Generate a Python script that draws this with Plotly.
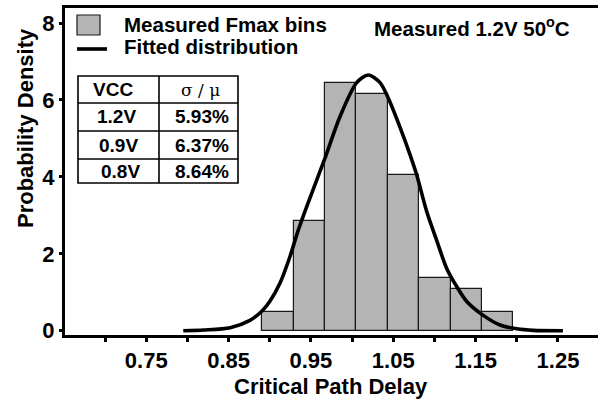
import plotly.graph_objects as go

# Histogram of measured critical path delay (normalised), 1.2V / 50°C
bin_centers = [0.9100, 0.9481, 0.9862, 1.0243, 1.0624, 1.1005, 1.1386, 1.1767]
bin_width = 0.0381
bin_density = [0.49, 2.86, 6.45, 6.15, 4.05, 1.38, 1.08, 0.49]

# Fitted distribution curve
fit_x = [0.795, 0.820, 0.852, 0.876, 0.890, 0.900, 0.9125, 0.9246, 0.9347, 0.9449,
         0.967, 0.985, 1.0056, 1.0197, 1.0339, 1.0428, 1.058, 1.0703, 1.0785,
         1.0906, 1.1027, 1.1149, 1.127, 1.1392, 1.1593, 1.1796, 1.200, 1.220, 1.256]
fit_y = [0.00, 0.02, 0.08, 0.27, 0.50, 0.76, 1.24, 1.93, 2.62, 3.23,
         4.48, 5.55, 6.45, 6.65, 6.45, 6.10, 5.30, 4.58, 4.05,
         3.10, 2.35, 1.62, 1.15, 0.76, 0.40, 0.15, 0.05, 0.01, 0.00]

# Spread table
vcc_labels = ["1.2V", "0.9V", "0.8V"]
sigma_mu = ["5.93%", "6.37%", "8.64%"]

x_major_ticks = [0.75, 0.85, 0.95, 1.05, 1.15, 1.25]
x_major_text = ["0.75", "0.85", "0.95", "1.05", "1.15", "1.25"]
x_minor_ticks = [0.70, 0.80, 0.90, 1.00, 1.10, 1.20]
y_tick_vals = [0, 2, 4, 6, 8]

FONT = "Liberation Sans, Arial, sans-serif"
W, H = 598, 400
ML, MR, MT, MB = 65, 0, 8, 65

fig = go.Figure()
fig.add_trace(go.Bar(
    x=bin_centers, y=bin_density, width=[bin_width] * len(bin_centers),
    marker=dict(color="#b4b4b4", line=dict(color="#1a1a1a", width=1.2)),
    showlegend=False,
))
fig.add_trace(go.Scatter(
    x=fit_x, y=fit_y, mode="lines",
    line=dict(color="black", width=3.6, shape="spline", smoothing=0.8),
    showlegend=False,
))

pw, ph = W - ML - MR, H - MT - MB


def px(xp):
    return (xp - ML) / pw


def py(yp):
    return 1 - (yp - MT) / ph


shapes = []
annotations = []
bold = dict(family=FONT, size=20.5, color="black", weight="bold")

# Legend
shapes.append(dict(type="rect", xref="paper", yref="paper",
                   x0=px(77), x1=px(100), y0=py(35), y1=py(15),
                   fillcolor="#b4b4b4", line=dict(color="#1a1a1a", width=1.2)))
shapes.append(dict(type="line", xref="paper", yref="paper",
                   x0=px(77), x1=px(107), y0=py(49), y1=py(49),
                   line=dict(color="black", width=3.6)))
annotations.append(dict(xref="paper", yref="paper", x=px(122), y=py(25),
                        xanchor="left", yanchor="middle", showarrow=False,
                        text="Measured Fmax bins", font=bold))
annotations.append(dict(xref="paper", yref="paper", x=px(122), y=py(47),
                        xanchor="left", yanchor="middle", showarrow=False,
                        text="Fitted distribution", font=bold))
annotations.append(dict(xref="paper", yref="paper", x=px(472), y=py(27),
                        xanchor="center", yanchor="middle", showarrow=False,
                        text="Measured 1.2V 50<sup>o</sup>C", font=bold))

# Table
tx0, tx1, tcol = 78, 238, 159
row_edges = [76, 103, 131, 159, 183]
tline = dict(color="black", width=1.6)
shapes.append(dict(type="rect", xref="paper", yref="paper",
                   x0=px(tx0), x1=px(tx1), y0=py(row_edges[-1]), y1=py(row_edges[0]),
                   line=tline))
shapes.append(dict(type="line", xref="paper", yref="paper",
                   x0=px(tcol), x1=px(tcol), y0=py(row_edges[-1]), y1=py(row_edges[0]),
                   line=tline))
for r in row_edges[1:-1]:
    shapes.append(dict(type="line", xref="paper", yref="paper",
                       x0=px(tx0), x1=px(tx1), y0=py(r), y1=py(r), line=tline))

tfont = dict(family=FONT, size=19, color="black", weight="bold")
col1_c = 116
col2_c = 200
annotations.append(dict(xref="paper", yref="paper", x=px(col1_c - 3), y=py(90),
                        xanchor="center", yanchor="middle", showarrow=False,
                        text="VCC", font=tfont))
annotations.append(dict(xref="paper", yref="paper", x=px(col2_c), y=py(90),
                        xanchor="center", yanchor="middle", showarrow=False,
                        text="σ / μ", font=dict(family="DejaVu Serif, serif", size=17,
                                                  color="black")))
for i, (v, s) in enumerate(zip(vcc_labels, sigma_mu)):
    yc = (row_edges[i + 1] + row_edges[i + 2]) / 2
    annotations.append(dict(xref="paper", yref="paper", x=px(col1_c + i * 2), y=py(yc),
                            xanchor="center", yanchor="middle", showarrow=False,
                            text=v, font=tfont))
    annotations.append(dict(xref="paper", yref="paper", x=px(col2_c + 2), y=py(yc),
                            xanchor="center", yanchor="middle", showarrow=False,
                            text=s, font=tfont))

# Axis titles
title_font = dict(family=FONT, size=22, color="black", weight="bold")
annotations.append(dict(xref="paper", yref="paper", x=px(331), y=py(386),
                        xanchor="center", yanchor="middle", showarrow=False,
                        text="Critical Path Delay", font=title_font))
annotations.append(dict(xref="paper", yref="paper", x=px(25), y=py(128),
                        xanchor="center", yanchor="middle", showarrow=False,
                        textangle=-90, text="Probability Density", font=title_font))

tick_font = dict(family=FONT, size=22, color="black", weight="bold")

fig.update_layout(
    width=W, height=H,
    margin=dict(l=ML, r=MR, t=MT, b=MB),
    paper_bgcolor="white", plot_bgcolor="white",
    bargap=0,
    shapes=shapes,
    annotations=annotations,
    xaxis=dict(range=[0.6514, 1.2986], tickvals=x_major_ticks, ticktext=x_major_text,
               ticks="outside", ticklen=4, tickwidth=3, tickcolor="black",
               minor=dict(tickvals=x_minor_ticks, ticks="outside", ticklen=4,
                          tickwidth=3, tickcolor="black", showgrid=False),
               showline=True, linecolor="black", linewidth=3, mirror=True,
               showgrid=False, zeroline=False, tickfont=tick_font),
    yaxis=dict(range=[-0.11, 8.39], tickvals=y_tick_vals,
               ticks="outside", ticklen=3, tickwidth=3, tickcolor="black",
               showline=True, linecolor="black", linewidth=3,
               showgrid=False, zeroline=False, tickfont=tick_font),
)

fig.write_html("out.html")
